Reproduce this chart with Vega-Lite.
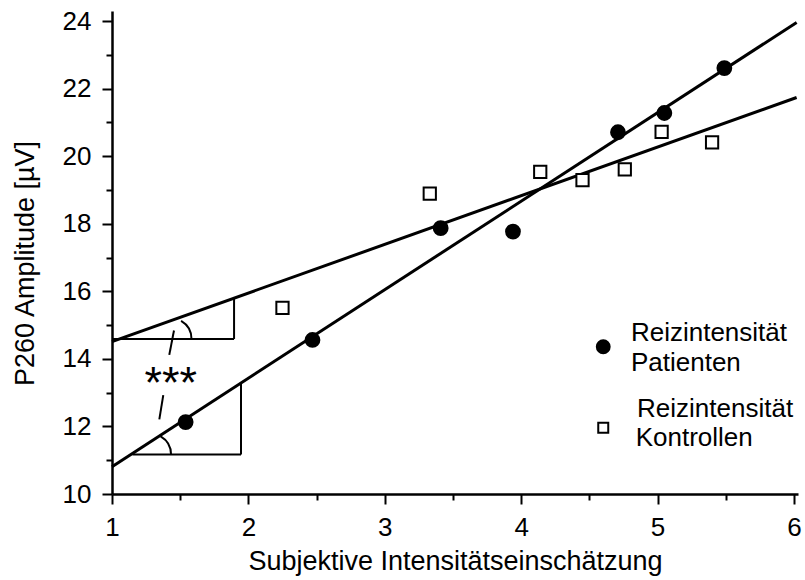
{
  "$schema": "https://vega.github.io/schema/vega-lite/v6.json",
  "autosize": {"type": "none"},
  "padding": {"left": 112, "top": 11, "right": 7, "bottom": 86},
  "width": 686,
  "height": 483,
  "background": "white",
  "config": {
    "view": {"stroke": null},
    "font": "Liberation Sans",
    "axis": {
      "grid": false,
      "ticks": true,
      "domain": true,
      "domainColor": "black",
      "domainWidth": 2.5,
      "tickColor": "black",
      "tickWidth": 2,
      "tickOpacity": 1,
      "labelColor": "black",
      "labelFont": "Liberation Sans",
      "labelFontSize": 26,
      "titleColor": "black",
      "titleFont": "Liberation Sans",
      "titleFontWeight": "normal",
      "titleFontSize": 27
    }
  },
  "resolve": {"axis": {"x": "independent", "y": "independent"}},
  "datasets": {
    "punkte": [
      {"gruppe": "Reizintensität Patienten", "x": 1.54, "y": 12.13},
      {"gruppe": "Reizintensität Patienten", "x": 2.47, "y": 14.56},
      {"gruppe": "Reizintensität Patienten", "x": 3.41, "y": 17.87},
      {"gruppe": "Reizintensität Patienten", "x": 3.94, "y": 17.77},
      {"gruppe": "Reizintensität Patienten", "x": 4.71, "y": 20.71},
      {"gruppe": "Reizintensität Patienten", "x": 5.05, "y": 21.28},
      {"gruppe": "Reizintensität Patienten", "x": 5.49, "y": 22.61},
      {"gruppe": "Reizintensität Kontrollen", "x": 2.25, "y": 15.51},
      {"gruppe": "Reizintensität Kontrollen", "x": 3.33, "y": 18.89},
      {"gruppe": "Reizintensität Kontrollen", "x": 4.14, "y": 19.54},
      {"gruppe": "Reizintensität Kontrollen", "x": 4.45, "y": 19.29},
      {"gruppe": "Reizintensität Kontrollen", "x": 4.76, "y": 19.61},
      {"gruppe": "Reizintensität Kontrollen", "x": 5.03, "y": 20.72},
      {"gruppe": "Reizintensität Kontrollen", "x": 5.40, "y": 20.41}
    ],
    "regression": [
      {"reihe": "Patienten", "x": 1, "y": 10.81},
      {"reihe": "Patienten", "x": 6.02, "y": 23.96},
      {"reihe": "Kontrollen", "x": 1, "y": 14.51},
      {"reihe": "Kontrollen", "x": 6.02, "y": 21.74}
    ],
    "steigungsdreiecke": [
      {"x": 1, "x2": 1.895, "y": 14.59, "y2": 14.59},
      {"x": 1.895, "x2": 1.895, "y": 14.59, "y2": 15.80},
      {"x": 1.15, "x2": 1.946, "y": 11.17, "y2": 11.17},
      {"x": 1.946, "x2": 1.946, "y": 11.17, "y2": 13.29},
      {"x": 1.4545, "x2": 1.42, "y": 14.84, "y2": 14.12},
      {"x": 1.376, "x2": 1.347, "y": 12.93, "y2": 12.21}
    ],
    "winkel": [
      {"x": 1.429, "y": 14.59},
      {"x": 1.279, "y": 11.17}
    ],
    "signifikanz": [
      {"x": 1.43, "y": 12.84, "text": "***"}
    ],
    "legendeSymbole": [
      {"gruppe": "Reizintensität Patienten", "x": 4.602, "y": 14.36},
      {"gruppe": "Reizintensität Kontrollen", "x": 4.602, "y": 11.96}
    ],
    "legendeText": [
      {"x": 4.805, "y": 14.54, "text": "Reizintensität"},
      {"x": 4.805, "y": 13.65, "text": "Patienten"},
      {"x": 4.85, "y": 12.29, "text": "Reizintensität"},
      {"x": 4.84, "y": 11.43, "text": "Kontrollen"}
    ]
  },
  "layer": [
    {
      "data": {"name": "regression"},
      "mark": {"type": "line", "color": "black", "strokeWidth": 3},
      "encoding": {
        "x": {
          "field": "x", "type": "quantitative",
          "scale": {"domain": [1, 6.03], "nice": false, "zero": false},
          "axis": {
            "orient": "bottom",
            "values": [1, 2, 3, 4, 5, 6],
            "ticks": true,
            "tickSize": 10,
            "labelPadding": 10,
            "labelFlush": false,
            "labelOverlap": false,
            "title": "Subjektive Intensitätseinschätzung",
            "titlePadding": 8
          }
        },
        "y": {
          "field": "y", "type": "quantitative",
          "scale": {"domain": [10, 24.3], "nice": false, "zero": false},
          "axis": {
            "orient": "left",
            "values": [10, 12, 14, 16, 18, 20, 22, 24],
            "ticks": true,
            "tickSize": 10,
            "labelPadding": 11,
            "labelFlush": false,
            "labelOverlap": false,
            "title": "P260 Amplitude [µV]",
            "titleY": 252,
            "titlePadding": 23
          }
        },
        "detail": {"field": "reihe"}
      }
    },
    {
      "data": {"name": "steigungsdreiecke"},
      "mark": {"type": "rule", "color": "black", "strokeWidth": 2},
      "encoding": {
        "x": {
          "field": "x", "type": "quantitative",
          "axis": {
            "orient": "bottom",
            "values": [1.5, 2.5, 3.5, 4.5, 5.5],
            "ticks": true,
            "tickSize": 6,
            "labels": false,
            "domain": false,
            "title": null
          }
        },
        "x2": {"field": "x2"},
        "y": {
          "field": "y", "type": "quantitative",
          "axis": {
            "orient": "left",
            "values": [11, 13, 15, 17, 19, 21, 23],
            "ticks": true,
            "tickSize": 6,
            "labels": false,
            "domain": false,
            "title": null
          }
        },
        "y2": {"field": "y2"}
      }
    },
    {
      "data": {"name": "winkel"},
      "mark": {
        "type": "arc", "theta": 0.53, "theta2": 1.5708,
        "radius": 21, "radius2": 21,
        "filled": false, "fill": null, "stroke": "black", "strokeWidth": 2
      },
      "encoding": {
        "x": {"field": "x", "type": "quantitative", "axis": null},
        "y": {"field": "y", "type": "quantitative", "axis": null}
      }
    },
    {
      "data": {"name": "signifikanz"},
      "mark": {"type": "text", "font": "Liberation Sans", "fontSize": 45, "align": "center", "baseline": "alphabetic", "color": "black"},
      "encoding": {
        "x": {"field": "x", "type": "quantitative", "axis": null},
        "y": {"field": "y", "type": "quantitative", "axis": null},
        "text": {"field": "text"}
      }
    },
    {
      "data": {"name": "punkte"},
      "mark": {"type": "point", "filled": true, "stroke": "black", "strokeWidth": 2, "opacity": 1},
      "encoding": {
        "x": {"field": "x", "type": "quantitative", "axis": null},
        "y": {"field": "y", "type": "quantitative", "axis": null},
        "shape": {
          "field": "gruppe", "type": "nominal",
          "scale": {"domain": ["Reizintensität Patienten", "Reizintensität Kontrollen"], "range": ["circle", "square"]},
          "legend": null
        },
        "fill": {
          "field": "gruppe", "type": "nominal",
          "scale": {"domain": ["Reizintensität Patienten", "Reizintensität Kontrollen"], "range": ["black", "white"]},
          "legend": null
        },
        "size": {
          "field": "gruppe", "type": "nominal",
          "scale": {"domain": ["Reizintensität Patienten", "Reizintensität Kontrollen"], "range": [190, 150]},
          "legend": null
        }
      }
    },
    {
      "data": {"name": "legendeSymbole"},
      "mark": {"type": "point", "filled": true, "stroke": "black", "strokeWidth": 2, "opacity": 1},
      "encoding": {
        "x": {"field": "x", "type": "quantitative", "axis": null},
        "y": {"field": "y", "type": "quantitative", "axis": null},
        "shape": {"field": "gruppe", "type": "nominal", "legend": null},
        "fill": {"field": "gruppe", "type": "nominal", "legend": null},
        "size": {
          "condition": {"test": "datum.gruppe === 'Reizintensität Patienten'", "value": 165},
          "value": 100
        }
      }
    },
    {
      "data": {"name": "legendeText"},
      "mark": {"type": "text", "font": "Liberation Sans", "fontSize": 26, "align": "left", "baseline": "alphabetic", "color": "black"},
      "encoding": {
        "x": {"field": "x", "type": "quantitative", "axis": null},
        "y": {"field": "y", "type": "quantitative", "axis": null},
        "text": {"field": "text"}
      }
    }
  ]
}
